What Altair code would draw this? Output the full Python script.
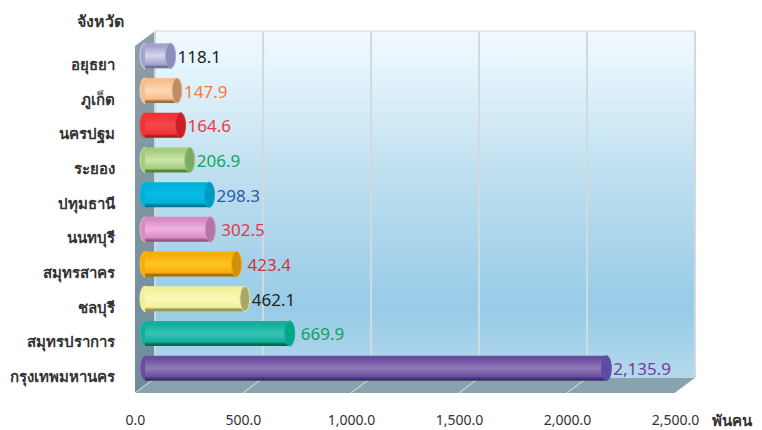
import altair as alt
import pandas as pd

provinces = ["อยุธยา", "ภูเก็ต", "นครปฐม", "ระยอง", "ปทุมธานี", "นนทบุรี", "สมุทรสาคร", "ชลบุรี", "สมุทรปราการ", "กรุงเทพมหานคร"]
values = [118.1, 147.9, 164.6, 206.9, 298.3, 302.5, 423.4, 462.1, 669.9, 2135.9]
label_colors = ["#222222", "#f4793b", "#ee3a45", "#0aa860", "#2a5aa8", "#e03a4a", "#d8303a", "#222222", "#12a05a", "#7040a0"]
edge_colors = ["#a3a3cf", "#f8bd8c", "#ee3338", "#a2cd7c", "#00b0da", "#d98cc2", "#f7ac06", "#f3f09c", "#14ae9a", "#6a4e9e"]
light_colors = ["#d6d6ee", "#fddab6", "#f4474a", "#cde4a9", "#07bce4", "#efb3dd", "#ffc524", "#fbf9ba", "#38c2b6", "#917bba"]
dark_colors = ["#71719f", "#97704c", "#a81c22", "#56803f", "#00789a", "#8f5480", "#a26e06", "#97974f", "#006c56", "#402b72"]
cap_colors = ["#8c8db8", "#bd8e6c", "#c81f28", "#7daa66", "#0098bc", "#b077a4", "#cf8f10", "#a8a86a", "#00a888", "#5c4ca6"]
ticks = [0, 500, 1000, 1500, 2000, 2500]
wide_gap = ["นนทบุรี", "สมุทรสาคร", "สมุทรปราการ"]

DX, DY = 93, 0.432          # depth of the 3-D box in data units
N = len(values)
rows = [N - 1 - i + 0.5 for i in range(N)]
x_scale = alt.Scale(domain=[0, 2500 + DX], range=[0, 560], nice=False, zero=False)
y_scale = alt.Scale(domain=[0, N + DY], range=[362, 0], nice=False, zero=False)
FONT = "Noto Sans"
TH = "Noto Sans, Open Sans, sans-serif"

X = alt.X("x:Q", scale=x_scale)
Y = alt.Y("y:Q", scale=y_scale)
Y2 = alt.Y2("y2:Q")

xaxis = alt.Axis(values=ticks, format=",.1f", domain=False, ticks=False, grid=False, labelFlush=False,
                 labelFontSize=14, labelColor="#333333", labelPadding=20, labelFont=FONT,
                 title="พันคน", titleX=576, titleY=27, titleAngle=0, titleAlign="left",
                 titleFontSize=15, titleFontWeight="bold", titleColor="#333333", titleFont=TH, titleBaseline="middle")
label_expr = "[" + ",".join("'%s'" % p for p in provinces[::-1]) + "][round(datum.value-0.5)]"
yaxis = alt.Axis(values=[r for r in rows], labelExpr=label_expr, domain=False, ticks=False, grid=False,
                 labelFontSize=15, labelFontWeight="bold", labelColor="#333333", labelPadding=21, labelOffset=1, labelFont=TH,
                 title="จังหวัด", titleX=-12, titleY=-10, titleAngle=0, titleAlign="right",
                 titleFontSize=16, titleFontWeight="bold", titleColor="#333333", titleFont=TH, titleBaseline="middle")

def grad(stops):
    return alt.Gradient(gradient="linear", x1=0, x2=0, y1=0, y2=1,
                        stops=[alt.GradientStop(offset=o, color=c) for o, c in stops])

# walls
back = alt.Chart(pd.DataFrame({"x": [DX], "x2": [2500 + DX], "y": [DY], "y2": [N + DY]})).mark_rect(
    color=grad([(0, "#f0f9fe"), (0.08, "#e8f6fd"), (0.4, "#c0e0f0"), (0.8, "#97cbe7"), (1, "#b4d9ec")])
).encode(x=alt.X("x:Q", scale=x_scale, axis=xaxis), x2="x2:Q",
         y=alt.Y("y:Q", scale=y_scale, axis=yaxis), y2=Y2)

left = alt.Chart(pd.DataFrame({"x": [0, DX], "y": [0, DY], "y2": [N, N + DY]})).mark_area(
    color=grad([(0, "#8f9ea6"), (1, "#6d8c9b")])
).encode(x=X, y=Y, y2=Y2)
floor = alt.Chart(pd.DataFrame({"x": [0, DX, 2500, 2500 + DX], "y": [0, 0, 0, DY], "y2": [0, DY, DY, DY]})).mark_area(
    color="#88a3ae"
).encode(x=X, y=Y, y2=Y2)

# gridlines
grid = alt.Chart(pd.DataFrame({"x": [t + DX for t in ticks], "y": [DY] * 6, "y2": [N + DY] * 6})).mark_rule(
    color="#d3dadf", strokeWidth=2).encode(x=X, y=Y, y2=Y2)
top = alt.Chart(pd.DataFrame({"x": [DX], "x2": [2500 + DX], "y": [N + DY]})).mark_rule(
    color="#e2e8ec", strokeWidth=2).encode(x=X, x2="x2:Q", y=Y)
floor_grid = alt.Chart(pd.DataFrame({"x": ticks, "x2": [t + DX for t in ticks], "y": [0] * 6, "y2": [DY] * 6})).mark_rule(
    color="#dfe6ea", strokeWidth=1).encode(x=X, x2="x2:Q", y=Y, y2=Y2)

# cylinders
ELL = "M-0.4,0A0.4,1 0 1 1 0.4,0A0.4,1 0 1 1 -0.4,0Z"
df = pd.DataFrame({"p": provinces, "v": values, "row": rows, "label": [f"{v:,.1f}" for v in values],
                   "lc": label_colors, "cap": cap_colors, "edge": edge_colors, "light": light_colors, "dark": dark_colors})
df["xs"] = DX / 2
df["xe"] = df["v"] + DX / 2
df["yc"] = df["row"] + DY / 2
df["y"] = df["yc"] - 0.36
df["y2"] = df["yc"] + 0.36
df["wide"] = df["p"].isin(wide_gap)

starts = alt.Chart(df).mark_point(shape=ELL, filled=True, opacity=1, size=625).encode(
    x=alt.X("xs:Q", scale=x_scale), y=alt.Y("yc:Q", scale=y_scale),
    fill=alt.Color("edge:N", scale=None), stroke=alt.Color("light:N", scale=None), strokeWidth=alt.value(1))

bars = []
for i in range(N):
    bars.append(alt.Chart(df.iloc[[i]]).mark_bar(
        color=grad([(0, edge_colors[i]), (0.12, edge_colors[i]), (0.5, light_colors[i]),
                    (0.84, edge_colors[i]), (0.93, dark_colors[i]), (1, dark_colors[i])])
    ).encode(x=alt.X("xs:Q", scale=x_scale), x2="xe:Q", y=alt.Y("y:Q", scale=y_scale), y2="y2:Q"))

caps = alt.Chart(df).mark_point(shape=ELL, filled=True, opacity=1, size=625).encode(
    x=alt.X("xe:Q", scale=x_scale), y=alt.Y("yc:Q", scale=y_scale),
    fill=alt.Color("cap:N", scale=None), stroke=alt.Color("edge:N", scale=None), strokeWidth=alt.value(1))

def value_labels(frame, dx):
    return alt.Chart(frame).mark_text(align="left", baseline="middle", dx=dx, dy=2, fontSize=17, font=FONT).encode(
        x=alt.X("xe:Q", scale=x_scale), y=alt.Y("yc:Q", scale=y_scale),
        text="label:N", color=alt.Color("lc:N", scale=None))

labels_near = value_labels(df[~df["wide"]], 7)
labels_far = value_labels(df[df["wide"]], 11)

chart = alt.layer(back, left, floor, grid, top, floor_grid, starts, *bars, caps, labels_near, labels_far).properties(
    width=560, height=362,
    padding={"left": 127, "top": 23, "right": 59, "bottom": 37},
    autosize=alt.AutoSizeParams(type="none"),
).configure_view(stroke=None)

chart.save("out.html", embed_options={"renderer": "svg", "actions": False})
